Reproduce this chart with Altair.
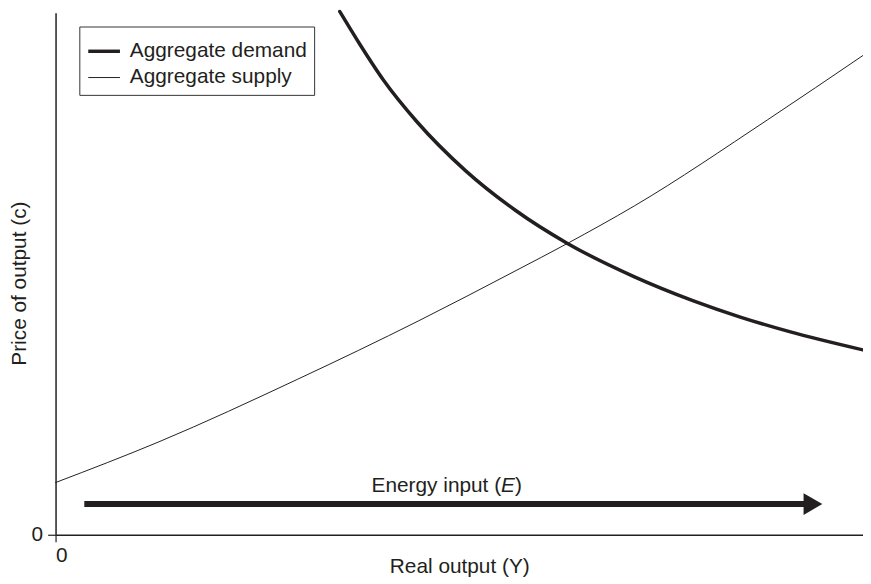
import altair as alt
import pandas as pd

# ---- data (arbitrary units, axes 0..10) ----
series_names = ["Aggregate demand", "Aggregate supply"]

supply_x = [0.0, 1.28, 3.0, 4.5, 5.69, 6.34, 7.17, 8.82, 10.0]
supply_y = [1.0, 1.78, 2.98, 4.10, 5.05, 5.58, 6.30, 7.95, 9.18]

demand_x = [3.52, 3.77, 4.06, 4.47, 5.08, 5.69, 6.34, 7.17, 7.90, 8.48, 9.09, 10.0]
demand_y = [10.02, 9.39, 8.71, 7.92, 6.97, 6.22, 5.58, 4.94, 4.48, 4.17, 3.89, 3.54]

arrow_x = [0.356, 9.28]
arrow_y = [0.588, 0.588]
arrow_head_x = [9.38]
arrow_label_parts = ["Energy input (", "E", ")"]
arrow_label_x = [5.518]
arrow_label_y = [0.816]

x_ticks = [0]
y_ticks = [0]

INK = "#231f20"
FONT = "Liberation Sans"
FS = 21

rows = []
for i, (a, b) in enumerate(zip(demand_x, demand_y)):
    rows.append({"series": series_names[0], "x": a, "y": b, "order": i})
for i, (a, b) in enumerate(zip(supply_x, supply_y)):
    rows.append({"series": series_names[1], "x": a, "y": b, "order": i})
df = pd.DataFrame(rows)

xscale = alt.Scale(domain=[0, 10], nice=False, zero=True)
yscale = alt.Scale(domain=[0, 10], nice=False, zero=True)

xaxis = alt.Axis(values=x_ticks, format="d", title="Real output (Y)", grid=False,
                 tickSize=7, tickColor=INK, domainColor=INK, domainWidth=1.5, tickWidth=1.2,
                 labelFont=FONT, labelFontSize=FS, labelColor=INK, labelPadding=3,
                 titleFont=FONT, titleFontSize=FS, titleFontWeight="normal", titleColor=INK,
                 titleBaseline="alphabetic", titleY=38)
yaxis = alt.Axis(values=y_ticks, format="d", title="Price of output (c)", grid=False,
                 tickSize=8, tickColor=INK, domainColor=INK, domainWidth=1.5, tickWidth=1.2,
                 labelFont=FONT, labelFontSize=FS, labelColor=INK, labelPadding=5,
                 titleFont=FONT, titleFontSize=FS, titleFontWeight="normal", titleColor=INK,
                 titleBaseline="alphabetic", titleX=-30, titleY=273, titleAngle=270)

lines = alt.Chart(df).mark_line(color=INK, strokeJoin="round", strokeCap="round",
                                interpolate="monotone").encode(
    x=alt.X("x:Q", scale=xscale, axis=xaxis),
    y=alt.Y("y:Q", scale=yscale, axis=yaxis),
    detail="series:N",
    order="order:Q",
    strokeWidth=alt.StrokeWidth(
        "series:N",
        scale=alt.Scale(domain=series_names, range=[3.5, 1.0]),
        legend=alt.Legend(title=None, orient="none", legendX=24, legendY=14,
                          strokeColor="#333333", fillColor="white", padding=7,
                          symbolType="stroke", symbolSize=1024, symbolStrokeColor=INK,
                          labelFont=FONT, labelFontSize=FS, labelColor=INK, labelLimit=0,
                          labelOffset=8, rowPadding=0),
    ),
)

arrow_df = pd.DataFrame({"x": [arrow_x[0]], "x2": [arrow_x[1]], "y": [arrow_y[0]]})
arrow = alt.Chart(arrow_df).mark_rule(color=INK, strokeWidth=6).encode(
    x=alt.X("x:Q", scale=xscale), x2="x2:Q", y=alt.Y("y:Q", scale=yscale)
)
head_df = pd.DataFrame({"x": arrow_head_x, "y": [arrow_y[1]]})
head = alt.Chart(head_df).mark_point(shape="triangle-right", filled=True, size=480,
                                     color=INK, opacity=1).encode(
    x=alt.X("x:Q", scale=xscale), y=alt.Y("y:Q", scale=yscale)
)

lab_df = pd.DataFrame({"x": arrow_label_x, "y": arrow_label_y})
lab1 = alt.Chart(lab_df).mark_text(text=arrow_label_parts[0], align="right", baseline="alphabetic",
                                   font=FONT, fontSize=FS, color=INK).encode(
    x=alt.X("x:Q", scale=xscale), y=alt.Y("y:Q", scale=yscale))
lab2 = alt.Chart(lab_df).mark_text(text=arrow_label_parts[1], align="left", baseline="alphabetic",
                                   font=FONT, fontSize=FS, fontStyle="italic", color=INK).encode(
    x=alt.X("x:Q", scale=xscale), y=alt.Y("y:Q", scale=yscale))
lab3 = alt.Chart(lab_df).mark_text(text=arrow_label_parts[2], align="left", baseline="alphabetic",
                                   font=FONT, fontSize=FS, color=INK, dx=14).encode(
    x=alt.X("x:Q", scale=xscale), y=alt.Y("y:Q", scale=yscale))

chart = alt.layer(lines, arrow, head, lab1, lab2, lab3).properties(
    width=815, height=527,
    autosize=alt.AutoSizeParams(type="none"),
    padding={"left": 48, "top": 2, "right": 0, "bottom": 46},
    background="white",
).configure_view(stroke=None)

chart.save("out.html", embed_options={"renderer": "svg", "actions": False})
